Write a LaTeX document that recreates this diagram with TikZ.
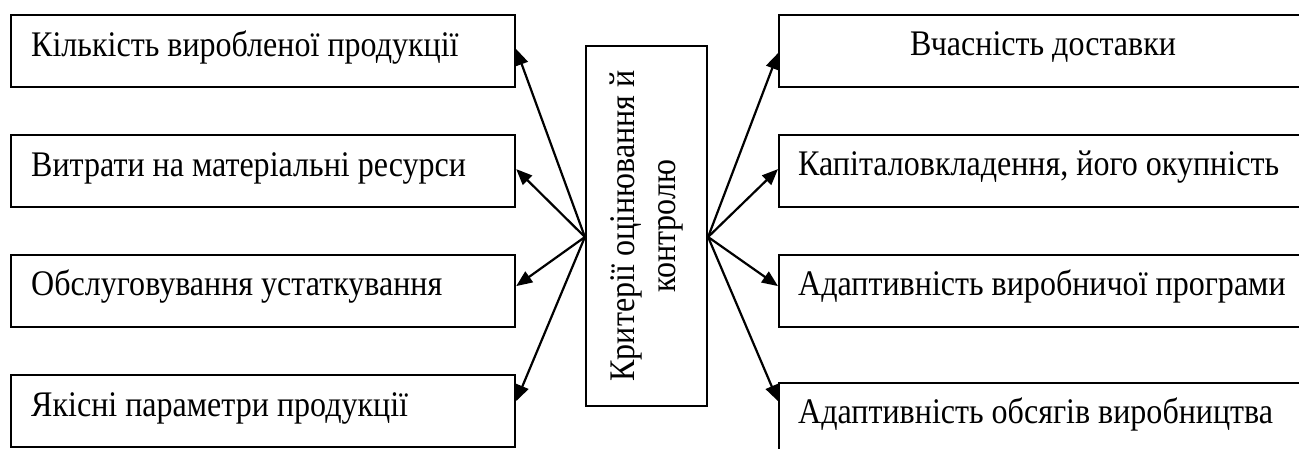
\documentclass[tikz,border=0pt]{standalone}
\usepackage{fontspec}
\setmainfont{Liberation Serif}[FakeStretch=0.89]
\usetikzlibrary{arrows.meta,calc}
\begin{document}
\begin{tikzpicture}[x=1pt,y=1pt,
  box/.style={draw,line width=2.2pt,minimum height=72pt,inner sep=0pt,anchor=north west},
  lbox/.style={box,minimum width=504pt},
  rbox/.style={box,minimum width=528pt},
  lbl/.style={anchor=base west,inner sep=0pt,font=\fontsize{36}{41}\selectfont},
  arr/.style={line width=2.2pt,-{Triangle[length=16pt,width=13pt]}}]
\useasboundingbox (0,0) rectangle (1299,-448);
\clip (0,0) rectangle (1299,-448);
% left boxes
\node[lbox] (L1) at (10,-14) {};
\node[lbox] (L2) at (10,-134) {};
\node[lbox] (L3) at (10,-254) {};
\node[lbox] (L4) at (10,-374) {};
\node[lbl] (L1t) at ($(L1.north west)+(21,-42)$) {Кількість виробленої продукції};
\node[lbl] (L2t) at ($(L2.north west)+(21,-42)$) {Витрати на матеріальні ресурси};
\node[lbl] (L3t) at ($(L3.north west)+(21,-41)$) {Обслуговування устаткування};
\node[lbl] (L4t) at ($(L4.north west)+(21,-42)$) {Якісні параметри продукції};
% right boxes
\node[rbox] (R1) at (778,-14) {};
\node[rbox] (R2) at (778,-134) {};
\node[rbox] (R3) at (778,-254) {};
\node[rbox] (R4) at (778,-382) {};
\node[lbl,anchor=base] (R1t) at ($(R1.north)+(0,-41)$) {Вчасність доставки};
\node[lbl] (R2t) at ($(R2.north west)+(20,-41)$) {Капіталовкладення, його окупність};
\node[lbl] (R3t) at ($(R3.north west)+(20,-41)$) {Адаптивність виробничої програми};
\node[lbl] (R4t) at ($(R4.north west)+(20,-41)$) {Адаптивність обсягів виробництва};
% centre box
\node[draw,line width=2.2pt,minimum width=121pt,minimum height=360pt,inner sep=0pt] (C) at (646.5,-226) {};
\node[rotate=90,align=center,inner sep=0pt,font=\fontsize{36}{41}\selectfont] (Ct) at (C.center) {Критерії оцінювання й\\контролю};
% connectors
\coordinate (oL) at ($(C.west)+(0,-11)$);
\coordinate (oR) at ($(C.east)+(0,-11)$);
\draw[arr] (oL) -- ($(L1.east)+(0,2)$);
\draw[arr] (oL) -- ($(L2.east)+(0,2)$);
\draw[arr] (oL) -- ($(L3.east)+(0,5)$);
\draw[arr] (oL) -- ($(L4.east)+(0,10)$);
\draw[arr] (oR) -- ($(R1.west)+(0,-2)$);
\draw[arr] (oR) -- ($(R2.west)+(0,2)$);
\draw[arr] (oR) -- ($(R3.west)+(0,5)$);
\draw[arr] (oR) -- ($(R4.west)+(0,18)$);
\end{tikzpicture}
\end{document}
